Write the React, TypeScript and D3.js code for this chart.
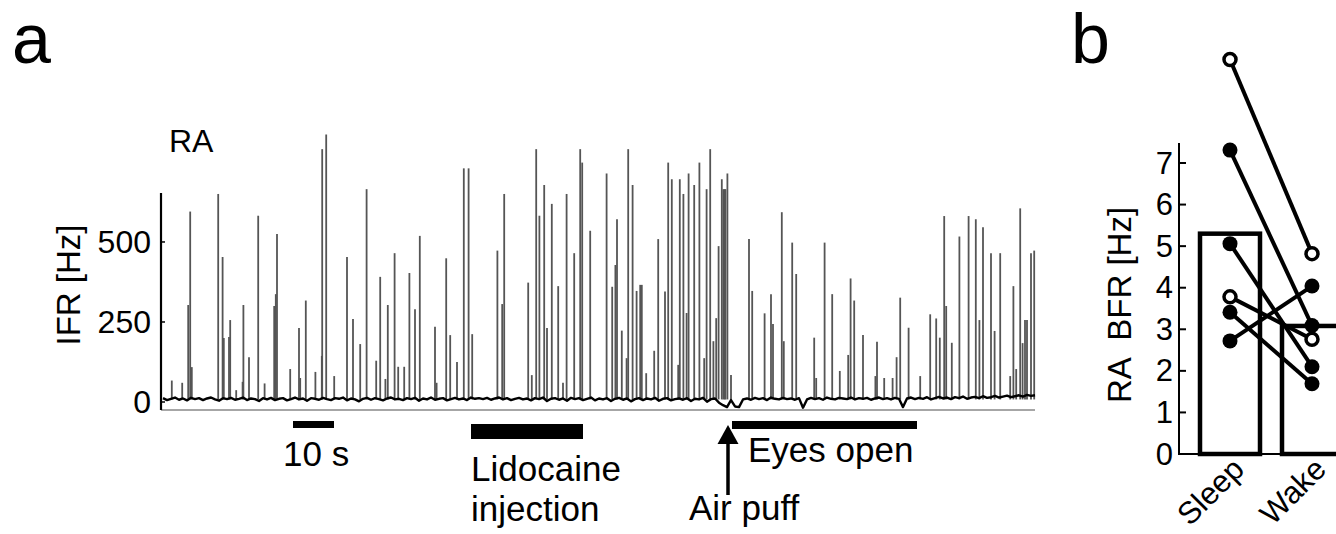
import React from "react";
import * as d3 from "d3";

// panel a: instantaneous firing rate trace (time in s, rate in Hz)
const SPIKES: [number, number][] = [
  [2.2, 67], [4.8, 60], [6.3, 303], [6.8, 595], [7.2, 109], [13.8, 650], [14.9, 453], [15.2, 200],
  [16.5, 203], [16.8, 256], [18.3, 37], [19.9, 63], [20.1, 303], [21.5, 140], [23.8, 582], [25.4, 58],
  [27.8, 300], [28.2, 337], [28.5, 525], [31.8, 103], [34.0, 231], [34.3, 75], [35.7, 317], [38.1, 94],
  [39.7, 144], [39.8, 790], [40.8, 836], [42.8, 81], [46.0, 453], [47.5, 259], [49.3, 181], [50.9, 665],
  [53.3, 129], [54.3, 391], [55.6, 72], [56.2, 303], [57.9, 465], [58.8, 110], [60.3, 110], [61.6, 403],
  [63.0, 290], [64.2, 519], [68.0, 235], [68.4, 60], [70.8, 449], [71.8, 209], [73.5, 125], [75.2, 730],
  [76.4, 730], [77.3, 212], [83.6, 473], [84.8, 306], [85.3, 650], [91.3, 373], [92.2, 84], [93.3, 790],
  [94.1, 582], [95.3, 678], [96.0, 231], [97.2, 619], [98.8, 362], [100.0, 60], [100.9, 650], [102.8, 465],
  [104.3, 790], [104.8, 748], [106.8, 535], [110.9, 714], [112.3, 360], [113.1, 428], [113.5, 571],
  [114.7, 223], [115.9, 137], [116.3, 790], [117.4, 678], [118.4, 347], [119.3, 366], [119.7, 366],
  [120.8, 90], [122.8, 160], [123.8, 509], [125.5, 345], [126.3, 748], [127.2, 696], [128.8, 116],
  [129.2, 696], [130.1, 650], [130.9, 278], [131.4, 714], [132.8, 678], [134.1, 748], [135.3, 137],
  [135.9, 665], [136.8, 790], [137.6, 190], [138.3, 262], [138.9, 487], [139.7, 696], [140.1, 665],
  [140.4, 665], [140.6, 665], [141.1, 714], [142.0, 84], [146.5, 509], [147.3, 347], [150.4, 277],
  [152.0, 337], [152.5, 244], [154.7, 593], [155.2, 190], [157.3, 498], [158.3, 400], [162.8, 201],
  [163.3, 75], [165.4, 498], [167.3, 337], [169.2, 97], [171.3, 147], [171.9, 386], [172.8, 317],
  [175.0, 209], [178.1, 81], [178.5, 188], [180.3, 75], [182.4, 75], [183.4, 140], [184.3, 326],
  [186.4, 232], [189.3, 81], [191.8, 274], [193.3, 261], [194.2, 201], [195.3, 581], [195.8, 300],
  [197.2, 185], [199.1, 517], [201.4, 581], [203.2, 571], [204.1, 256], [205.0, 546], [207.0, 465],
  [207.9, 222], [209.3, 465], [211.8, 81], [212.6, 362], [213.3, 103], [214.3, 605], [214.9, 184],
  [215.5, 256], [216.0, 256], [217.0, 465], [217.8, 473],
];

// baseline rate, one value per second from t = 0
const BASELINE_HZ = [
  12, 6, 10, 14, 7, 11, 5, 13, 9, 12,
  6, 11, 14, 8, 4, 12, 9, 13, 7, 10,
  14, 6, 11, 9, 3, 12, 8, 13, 6, 10,
  12, 5, 9, 14, 8, 11, 4, 12, 10, 7,
  13, 9, 6, 12, 10, 14, 5, 11, 8, 2,
  10, 13, 7, 12, 9, 5, 11, 14, 8, 10,
  6, 12, 9, 13, 4, 11, 8, 14, 7, 10,
  12, 5, 9, 13, 8, 11, 6, 14, 10, 12,
  9, 13, 7, 11, 14, 8, 12, 6, 10, 13,
  8, 11, 5, 12, 9, 14, 3, 10, 12, 7,
  11, 4, 13, 9, 12, 6, 10, 14, 5, 11,
  8, 12, 3, 10, 13, 7, 11, 2, 9, 12,
  6, 11, 8, 13, 4, 10, 12, 5, 9, 11,
  7, 12, 3, 10, 8, 13, 1, 9, 11, -2,
  -10, -16, 6, -14, -16, 8, 11, 7, 13, 9,
  12, 6, 14, 10, 8, 13, 9, 11, 7, 12,
  -18, 8, 13, 9, 12, 7, 14, 10, 8, 13,
  11, 9, 14, 8, 12, 10, 13, 7, 11, 14,
  9, 12, 8, 13, 10, -16, 11, 14, 9, 13,
  10, 15, 8, 12, 16, 11, 14, 9, 15, 12,
  17, 10, 14, 16, 12, 18, 13, 15, 19, 14,
  17, 20, 15, 18, 21, 17, 22, 19, 21,
];

const IFR_TICKS = [0, 250, 500];

// annotations (time in s)
const SCALE_BAR = [32.5, 42.75];
const LIDOCAINE = [77, 105];
const AIR_PUFF = 141.25;
const EYES_OPEN = [142.25, 188.5];

// panel b
const CONDITIONS = ["Sleep", "Wake"];
const MEANS = [5.3, 3.08];
const PAIRS: { sleep: number; wake: number; open: boolean }[] = [
  { sleep: 9.49, wake: 4.82, open: true },
  { sleep: 7.31, wake: 3.09, open: false },
  { sleep: 5.06, wake: 2.1, open: false },
  { sleep: 3.78, wake: 2.76, open: true },
  { sleep: 3.41, wake: 1.69, open: false },
  { sleep: 2.72, wake: 4.04, open: false },
];
const BFR_TICKS = [0, 1, 2, 3, 4, 5, 6, 7];

const FONT = "'Liberation Sans', Arial, sans-serif";

export default function App() {
  const x = d3.scaleLinear().domain([0, 218]).range([163, 1035]);
  const y = d3.scaleLinear().domain([-25, 653]).range([410, 193]);
  const base = d3
    .line<number>()
    .x((_, i) => x(i))
    .y((d) => y(d));

  const xb = d3.scalePoint<string>().domain(CONDITIONS).range([1230, 1312]);
  const yb = d3.scaleLinear().domain([0, 7]).range([454, 163]);
  const barW = 60;

  return (
    <svg
      width={1336}
      height={534}
      style={{ position: "absolute", left: 0, top: 0, background: "#fff" }}
      fontFamily={FONT}
    >
      {/* panel letters */}
      <text x={12} y={63} fontSize={70}>a</text>
      <text x={1071} y={63} fontSize={70}>b</text>

      {/* ---- panel a ---- */}
      <text x={169} y={152} fontSize={32}>RA</text>

      {SPIKES.map(([t, h], i) => (
        <line key={i} x1={x(t)} x2={x(t)} y1={y(8)} y2={y(h)} stroke="#555" strokeWidth={1.8} />
      ))}
      <path d={base(BASELINE_HZ) ?? ""} fill="none" stroke="#000" strokeWidth={2.4} strokeLinejoin="round" />

      <line x1={161} x2={1035} y1={410} y2={410} stroke="#888" strokeWidth={1.5} />
      <line x1={161} x2={161} y1={193} y2={410} stroke="#000" strokeWidth={2.2} />
      {IFR_TICKS.map((t) => (
        <g key={t}>
          <line x1={161} x2={165} y1={y(t)} y2={y(t)} stroke="#000" strokeWidth={1.5} />
          <text x={151} y={y(t)} fontSize={32} textAnchor="end" dominantBaseline="central">
            {t}
          </text>
        </g>
      ))}
      <text transform="translate(80, 285) rotate(-90)" fontSize={33} textAnchor="middle">
        IFR [Hz]
      </text>

      {/* annotations */}
      <rect x={x(SCALE_BAR[0])} y={421} width={x(SCALE_BAR[1]) - x(SCALE_BAR[0])} height={7} fill="#000" />
      <text x={283} y={466} fontSize={35}>10 s</text>

      <rect x={x(LIDOCAINE[0])} y={424} width={x(LIDOCAINE[1]) - x(LIDOCAINE[0])} height={15} fill="#000" />
      <text x={x(LIDOCAINE[0])} y={481} fontSize={35}>Lidocaine</text>
      <text x={x(LIDOCAINE[0])} y={521} fontSize={35}>injection</text>

      <rect x={x(EYES_OPEN[0])} y={421} width={x(EYES_OPEN[1]) - x(EYES_OPEN[0])} height={8} fill="#000" />
      <text x={748} y={462} fontSize={35}>Eyes open</text>

      <line x1={x(AIR_PUFF)} x2={x(AIR_PUFF)} y1={440} y2={495} stroke="#000" strokeWidth={3.5} />
      <path
        d={`M${x(AIR_PUFF)},425 L${x(AIR_PUFF) + 10.5},444 L${x(AIR_PUFF) - 10.5},444 Z`}
        fill="#000"
      />
      <text x={689} y={520} fontSize={35}>Air puff</text>

      {/* ---- panel b ---- */}
      {CONDITIONS.map((c, i) => (
        <rect
          key={c}
          x={(xb(c) ?? 0) - barW / 2}
          y={yb(MEANS[i])}
          width={barW}
          height={yb(0) - yb(MEANS[i])}
          fill="#fff"
          stroke="#000"
          strokeWidth={4.5}
        />
      ))}
      <line x1={1179} x2={1179} y1={143} y2={455} stroke="#000" strokeWidth={2} />
      <line x1={1178} x2={1336} y1={454} y2={454} stroke="#000" strokeWidth={2} />
      {BFR_TICKS.map((t) => (
        <g key={t}>
          <line x1={1179} x2={1186} y1={yb(t)} y2={yb(t)} stroke="#000" strokeWidth={2} />
          <text x={1173} y={yb(t)} fontSize={31} textAnchor="end" dominantBaseline="central">
            {t}
          </text>
        </g>
      ))}
      <text
        transform="translate(1131, 305) rotate(-90)"
        fontSize={33}
        textAnchor="middle"
        style={{ whiteSpace: "pre" }}
      >
        {"RA  BFR [Hz]"}
      </text>

      {PAIRS.map((p, i) => (
        <line
          key={i}
          x1={xb("Sleep")}
          y1={yb(p.sleep)}
          x2={xb("Wake")}
          y2={yb(p.wake)}
          stroke="#000"
          strokeWidth={4}
        />
      ))}
      {PAIRS.map((p, i) =>
        [
          [xb("Sleep") ?? 0, p.sleep],
          [xb("Wake") ?? 0, p.wake],
        ].map(([cx, v], j) =>
          p.open ? (
            <circle key={`${i}-${j}`} cx={cx} cy={yb(v)} r={6} fill="#fff" stroke="#000" strokeWidth={3.5} />
          ) : (
            <circle key={`${i}-${j}`} cx={cx} cy={yb(v)} r={7.5} fill="#000" />
          )
        )
      )}

      {CONDITIONS.map((c) => (
        <text
          key={c}
          transform={`translate(${(xb(c) ?? 0) + 16}, 471) rotate(-45)`}
          fontSize={31}
          textAnchor="end"
        >
          {c}
        </text>
      ))}
    </svg>
  );
}
